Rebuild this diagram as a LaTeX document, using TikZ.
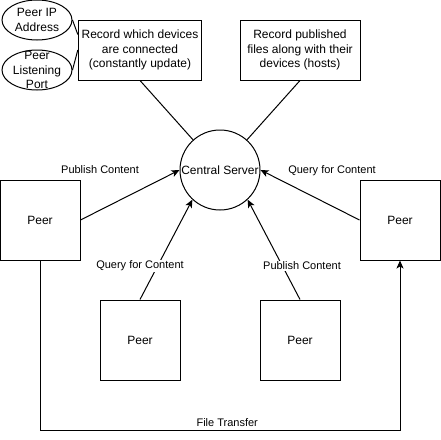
\documentclass[tikz,border=0pt]{standalone}
\usepackage{fontspec}
\setmainfont{Liberation Sans}
\usetikzlibrary{shapes.geometric,arrows.meta}

\begin{document}
\begin{tikzpicture}[x=1pt,y=-1pt,line width=1pt,
  txt/.style={font=\fontsize{12}{14.5}\selectfont,align=center},
  box/.style={draw,txt,minimum width=80pt,minimum height=80pt},
  note/.style={draw,txt,minimum width=120pt,minimum height=60pt},
  oval/.style={draw,ellipse,minimum width=70pt,minimum height=40pt,inner sep=0pt},
  lbl/.style={font=\fontsize{11}{13}\selectfont,fill=white,inner sep=1pt},
  arr/.style={-{Stealth[length=8pt,width=7pt,inset=2pt]}}]
\useasboundingbox (0,0) rectangle (441,439);
\node [oval] (ip) at (37,20) {};
\node [txt] (ipt) at (ip) {Peer IP\\Address};
\node [oval] (port) at (37,70) {};
\node [txt] (portt) at (port) {Peer\\Listening\\Port};
\node [note] (rec) at (140,50) {Record which devices\\are connected\\(constantly update)};
\node [note] (pub) at (300,50) {Record published\\files along with their\\devices (hosts)};
\node [draw,circle,txt,minimum size=80pt,inner sep=0pt] (server) at (220,170) {Central Server};
\node [box] (lp) at (40,220) {Peer};
\node [box] (rp) at (400,220) {Peer};
\node [box] (qp) at (140,340) {Peer};
\node [box] (pp) at (300,340) {Peer};
\draw
(ip.east) -- (rec.166)
(port.east) -- (rec.west)
(rec.south) -- (server)
(pub.south) -- (server);
\foreach \from/\to in {lp.east/server.west, rp.west/server.east, qp.north/server.227, pp.north/server.313}
  \draw [arr] (\from) -- (\to);
%labels sit on top of the lines
\node [lbl] (lpl) at (100,170) {Publish Content};
\node [lbl] (rpl) at (332,171) {Query for Content};
\node [lbl] (qpl) at (140,266) {Query for Content};
\node [lbl] (ppl) at (302,266) {Publish Content};
\draw [arr] (lp.south) -- ++(0,170) -| node [lbl,pos=0.26,above,fill=none,inner sep=3pt] (ftl) {File Transfer} (rp.south);
\end{tikzpicture}
\end{document}
